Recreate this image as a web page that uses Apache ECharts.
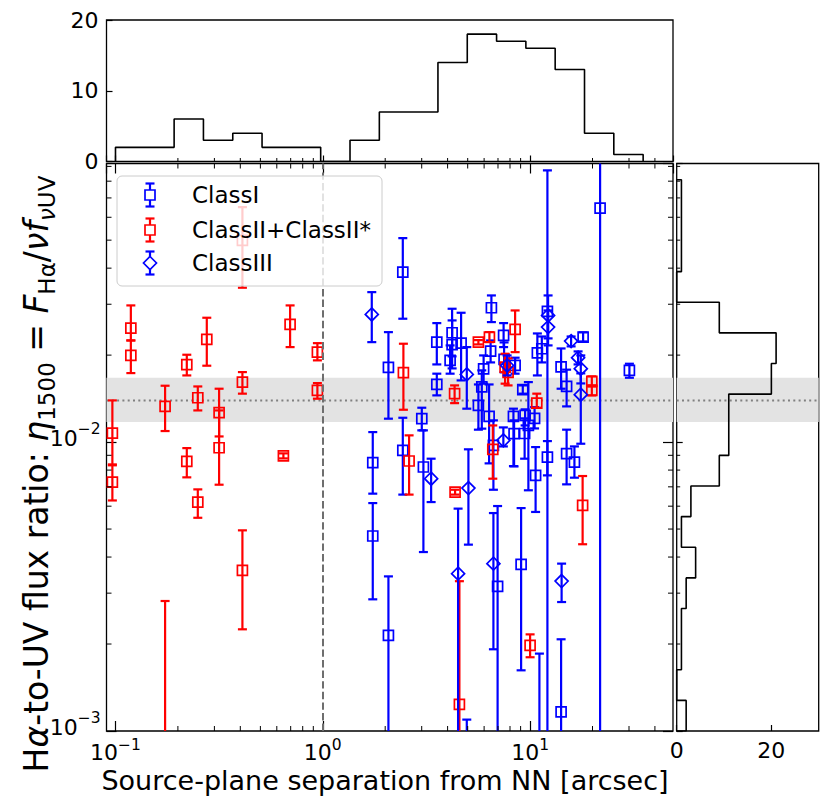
<!DOCTYPE html>
<html><head><meta charset="utf-8">
<script src="https://cdn.jsdelivr.net/npm/echarts@6/dist/echarts.min.js"></script>
<style>html,body{margin:0;padding:0;background:#fff}#c{width:830px;height:805px}</style>
</head><body><div id="c"></div>
<script>
// ---------------- data ----------------
const classI_x  = [2.073,1.742,1.742,2.073,2.432,3.003,3.057,3.548,3.548,2.432,4.205,4.205,4.113,4.647,5.631,10.63,12.12,12.12,11.09,14.11,15.0,16.36,21.76,9.05,6.97,4.95,6.506,7.45,7.49,8.467,6.449,5.967,5.848,6.342,6.653,9.22,8.31,9.46,8.37,9.41,9.81,10.51,10.84,11.39,14.11,15.0,18.02,30.13];
const classI_y  = [0.01814,0.00849,0.00473,0.002144,0.03875,0.01205,0.0082,0.02218,0.01583,0.00936,0.0239,0.02173,0.01918,0.022,0.0134,0.00767,0.02833,0.00887,0.0005,0.001164,0.00912,0.00853,0.06452,0.003775,0.003167,0.0005,0.02917,0.0234,0.01933,0.01842,0.02065,0.01792,0.01552,0.01227,0.00974,0.01518,0.01227,0.01237,0.0107,0.01071,0.01142,0.01208,0.02035,0.02104,0.0182,0.01558,0.02308,0.01771];
const classI_lo = [0.01205,0.00663,0.002856,0.0001,0.02673,0.01098,0.004163,0.01857,0.01451,0.00658,0.0198,0.01799,0.01725,0.01635,0.01104,0.00573,0.0001,0.00767,0.0001,0.0001,0.00714,0.00753,0.0001,0.001622,0.0001,0.0001,0.02602,0.02132,0.01743,0.01725,0.01887,0.01593,0.01113,0.00844,0.00684,0.01471,0.00826,0.01142,0.00824,0.00876,0.00681,0.01115,0.01701,0.01887,0.0153,0.01329,0.0223,0.0167];
const classI_hi = [0.02402,0.01083,0.00615,0.003429,0.0508,0.01315,0.01098,0.02581,0.01725,0.01214,0.02894,0.02637,0.02161,0.02803,0.01583,0.00961,0.08713,0.01008,0.001853,0.002077,0.01104,0.00966,0.2,0.00591,0.006007,0.001095,0.03218,0.02581,0.02213,0.01959,0.02248,0.01995,0.01771,0.01583,0.01189,0.01571,0.01305,0.01298,0.01189,0.01208,0.01613,0.01321,0.02377,0.0232,0.02109,0.01781,0.02397,0.01867];

const classII_x  = [0.0966,0.0966,0.1186,0.1186,0.1735,0.2208,0.2208,0.2495,0.2495,0.2757,0.3161,0.3161,0.4095,0.4095,0.4095,0.6955,0.6456,0.9418,0.9418,0.1735,2.448,4.323,5.631,6.364,8.467,7.576,10.77,19.85,19.85,6.608,2.608,4.347,10.0,17.92,4.56,7.83];
const classII_y  = [0.01074,0.00727,0.0248,0.01995,0.01329,0.01853,0.00857,0.01424,0.0062,0.02266,0.01264,0.00956,0.01613,0.04988,0.003598,0.02554,0.00896,0.02048,0.01509,0.0004,0.01739,0.01471,0.02218,0.02308,0.02455,0.01818,0.01364,0.01622,0.01509,0.00944,0.0086,0.00671,0.00198,0.00604,0.001237,0.01743];
const classII_lo = [0.00831,0.00628,0.02248,0.01733,0.01092,0.01701,0.00755,0.01287,0.00547,0.01838,0.01046,0.00712,0.01471,0.03422,0.002249,0.02132,0.00878,0.01918,0.01413,0.0001,0.01294,0.01364,0.02178,0.02218,0.02048,0.01593,0.01315,0.01558,0.01451,0.00747,0.00658,0.00658,0.0018,0.00443,0.0001,0.01571];
const classII_hi = [0.01394,0.00837,0.02972,0.02248,0.01567,0.02006,0.00953,0.01558,0.00686,0.02694,0.0153,0.01287,0.01747,0.06504,0.004949,0.02972,0.00914,0.022,0.016,0.002818,0.0219,0.01571,0.02254,0.02402,0.02855,0.02022,0.01471,0.01688,0.01571,0.01142,0.01055,0.00684,0.00216,0.00763,0.0033,0.01948];

const classIII_x  = [1.723,3.331,4.95,4.494,5.04,7.43,12.21,12.21,14.19,6.653,7.745,15.77,17.04,17.56,17.56];
const classIII_y  = [0.02766,0.00747,0.01715,0.003505,0.00693,0.01014,0.02744,0.025,0.003304,0.003796,0.01842,0.02236,0.01959,0.01795,0.01459];
const classIII_lo = [0.02218,0.0062,0.01305,0.0001,0.004416,0.00966,0.02285,0.02161,0.002795,0.001918,0.01701,0.02144,0.01857,0.01596,0.00987];
const classIII_hi = [0.03304,0.00876,0.02132,0.005884,0.00944,0.01124,0.03218,0.02855,0.003796,0.00568,0.01995,0.0232,0.0206,0.01995,0.01729];

const histTopEdges  = [0.1,0.1385,0.1918,0.2656,0.3679,0.5093,0.7054,0.9768,1.353,1.874,2.594,3.593,4.976,6.891,9.541,13.21,18.30,25.34,35.1];
const histTopCounts = [2,2,6,3,4,2,2,0,3,7,7,14,18,17,16,13,4,1];
const histRightEdges  = [0.001,0.001276,0.001629,0.00208,0.002655,0.003388,0.004325,0.005521,0.007047,0.008995,0.01148,0.01466,0.01871,0.02388,0.03048,0.0389,0.04966,0.06339,0.08091];
const histRightCounts = [2,0,1,1,2,4,1,3,9,11,11,20,21,9,0,1,1,1];

const etaMedian = 0.01394, etaLo = 0.01173, etaHi = 0.0167;
const xLimits = [0.0905, 48.9];
const yLimits = [0.001, 0.0921];
const topCountTicks = [0, 20, 10];   // min, max, interval
const rightCountTicks = [0, 30, 20]; // min, max, interval
const minorX = [0.2,0.3,0.4,0.5,0.6,0.7,0.8,0.9,2,3,4,5,6,7,8,9,20,30,40];
const minorY = [0.002,0.003,0.004,0.005,0.006,0.007,0.008,0.009,0.02,0.03,0.04,0.05,0.06,0.07,0.08,0.09];
const legendNames = ['ClassI', 'ClassII+ClassII*', 'ClassIII'];
const xLabelText = 'Source-plane separation from NN [arcsec]';

// ---------------- helpers ----------------
const F = 'DejaVu Sans';
const BLUE = '#0000ff', RED = '#ff0000';

function powLabel(v) {
  const e = Math.log10(v), r = Math.round(e);
  if (Math.abs(e - r) > 1e-6) return '';
  return '{b|10}{s|' + (r < 0 ? '\u2212' + (-r) : String(r)) + '}';
}
const powRichX = {
  b: {fontSize: 22, fontFamily: F, color: '#000', lineHeight: 26, verticalAlign: 'bottom'},
  s: {fontSize: 15.5, fontFamily: F, color: '#000', lineHeight: 14, verticalAlign: 'top'}
};
const powRichY = {
  b: {fontSize: 22, fontFamily: F, color: '#000', lineHeight: 28, verticalAlign: 'bottom'},
  s: {fontSize: 15.5, fontFamily: F, color: '#000', lineHeight: 14, verticalAlign: 'top'}
};

function errItem(shape) {
  return function (params, api) {
    const x = api.value(0), y = api.value(1), lo = api.value(2), hi = api.value(3);
    const p = api.coord([x, y]), pl = api.coord([x, lo]), ph = api.coord([x, hi]);
    const c = api.visual('color');
    const cap = 4.5, lw = 2.2;
    const ch = [
      {type: 'line', shape: {x1: p[0], y1: pl[1], x2: p[0], y2: ph[1]}, style: {stroke: c, lineWidth: lw}},
      {type: 'line', shape: {x1: p[0] - cap, y1: ph[1], x2: p[0] + cap, y2: ph[1]}, style: {stroke: c, lineWidth: lw}},
      {type: 'line', shape: {x1: p[0] - cap, y1: pl[1], x2: p[0] + cap, y2: pl[1]}, style: {stroke: c, lineWidth: lw}}
    ];
    if (shape === 'square') {
      ch.push({type: 'rect', shape: {x: p[0] - 5, y: p[1] - 5, width: 10, height: 10}, style: {fill: 'none', stroke: c, lineWidth: 1.7}});
    } else {
      ch.push({type: 'polygon', shape: {points: [[p[0], p[1] - 6.5], [p[0] + 6.5, p[1]], [p[0], p[1] + 6.5], [p[0] - 6.5, p[1]]]}, style: {fill: 'none', stroke: c, lineWidth: 1.7}});
    }
    return {type: 'group', children: ch};
  };
}
function zip4(a, b, c, d) { return a.map((v, i) => [v, b[i], c[i], d[i]]); }

function minorXTicks(refY, sides, len) {
  return function (params, api) {
    const cs = params.coordSys;
    const x = api.coord([api.value(0), refY])[0];
    const ch = [];
    if (sides.indexOf('b') >= 0) ch.push({type: 'line', shape: {x1: x, y1: cs.y + cs.height, x2: x, y2: cs.y + cs.height - len}, style: {stroke: '#000', lineWidth: 1}});
    if (sides.indexOf('t') >= 0) ch.push({type: 'line', shape: {x1: x, y1: cs.y, x2: x, y2: cs.y + len}, style: {stroke: '#000', lineWidth: 1}});
    return {type: 'group', children: ch};
  };
}
function minorYTicks(refX, sides, len) {
  return function (params, api) {
    const cs = params.coordSys;
    const y = api.coord([refX, api.value(1)])[1];
    const ch = [];
    if (sides.indexOf('l') >= 0) ch.push({type: 'line', shape: {x1: cs.x, y1: y, x2: cs.x + len, y2: y}, style: {stroke: '#000', lineWidth: 1}});
    if (sides.indexOf('r') >= 0) ch.push({type: 'line', shape: {x1: cs.x + cs.width, y1: y, x2: cs.x + cs.width - len, y2: y}, style: {stroke: '#000', lineWidth: 1}});
    return {type: 'group', children: ch};
  };
}

// histogram outlines (step)
const topPath = [[histTopEdges[0], 0]];
histTopCounts.forEach((c, i) => { topPath.push([histTopEdges[i], c], [histTopEdges[i + 1], c]); });
topPath.push([histTopEdges[histTopEdges.length - 1], 0]);
const rightPath = [[0, histRightEdges[0]]];
histRightCounts.forEach((c, i) => { rightPath.push([c, histRightEdges[i]], [c, histRightEdges[i + 1]]); });
rightPath.push([0, histRightEdges[histRightEdges.length - 1]]);

// legend graphic
function legendIcon(cx, cy, color, shape) {
  const els = [
    {type: 'line', shape: {x1: cx, y1: cy - 11.5, x2: cx, y2: cy + 11.5}, style: {stroke: color, lineWidth: 2.2}},
    {type: 'line', shape: {x1: cx - 4.5, y1: cy - 11.5, x2: cx + 4.5, y2: cy - 11.5}, style: {stroke: color, lineWidth: 2.2}},
    {type: 'line', shape: {x1: cx - 4.5, y1: cy + 11.5, x2: cx + 4.5, y2: cy + 11.5}, style: {stroke: color, lineWidth: 2.2}}
  ];
  if (shape === 'square') els.push({type: 'rect', shape: {x: cx - 5, y: cy - 5, width: 10, height: 10}, style: {fill: '#fff', stroke: color, lineWidth: 1.7}});
  else els.push({type: 'polygon', shape: {points: [[cx, cy - 6.5], [cx + 6.5, cy], [cx, cy + 6.5], [cx - 6.5, cy]]}, style: {fill: '#fff', stroke: color, lineWidth: 1.7}});
  return els;
}
const legendRows = [[195, BLUE, 'square'], [230, RED, 'square'], [263, BLUE, 'diamond']];
const graphic = [{type: 'rect', z: 100, shape: {x: 117, y: 176, width: 265, height: 110, r: 5}, style: {fill: 'rgba(255,255,255,0.8)', stroke: '#cccccc', lineWidth: 1}}];
legendRows.forEach((r, i) => {
  legendIcon(150, r[0], r[1], r[2]).forEach(e => { e.z = 101; graphic.push(e); });
  graphic.push({type: 'text', z: 101, x: 192, y: r[0], style: {text: legendNames[i], font: '23px "DejaVu Sans"', fill: '#000', align: 'left', verticalAlign: 'middle', textAlign: 'left', textVerticalAlign: 'middle'}});
});
// axis titles
graphic.push({type: 'text', z: 101, x: 385, y: 780, style: {text: xLabelText, font: '27px "DejaVu Sans"', lineHeight: 27, fill: '#000', align: 'center', verticalAlign: 'middle', textAlign: 'center', textVerticalAlign: 'middle'}});
const ylRich = {
  n: {fontSize: 33, fontFamily: F, color: '#000', lineHeight: 44, verticalAlign: 'middle'},
  i: {fontSize: 33, fontFamily: F, fontStyle: 'italic', color: '#000', lineHeight: 44, verticalAlign: 'middle'},
  s: {fontSize: 23, fontFamily: F, color: '#000', lineHeight: 23, verticalAlign: 'bottom'},
  si: {fontSize: 23, fontFamily: F, fontStyle: 'italic', color: '#000', lineHeight: 23, verticalAlign: 'bottom'}
};
graphic.push({type: 'text', z: 101, x: 36, y: 474, rotation: Math.PI / 2, style: {
  text: '{n|H}{i|\u03b1}{n|-to-UV flux ratio: }{i|\u03b7}{s|1500}{n| = }{i|F}{s|H\u03b1}{n|/}{i|\u03bdf}{si|\u03bd}{s|UV}',
  rich: ylRich, align: 'center', verticalAlign: 'middle', textAlign: 'center', textVerticalAlign: 'middle'}});

// ---------------- chart ----------------
const chart = echarts.init(document.getElementById('c'), null, {renderer: 'svg'});
const gridBase = {show: true, borderColor: '#000', borderWidth: 1.3, backgroundColor: 'rgba(0,0,0,0)', containLabel: false, outerBoundsMode: 'none'};
const tickMajor = {show: true, inside: true, length: 10, lineStyle: {color: '#000', width: 1.2}};
const tickHist = {show: true, inside: true, length: 6, lineStyle: {color: '#000', width: 1.2}};
const noLabel = {show: false};
const off = {show: false};
const dotted = {color: '#808080', width: 2, type: [2, 3.3]};

chart.setOption({
  animation: false,
  backgroundColor: '#fff',
  textStyle: {fontFamily: F},
  grid: [
    Object.assign({left: 106.5, top: 163.5, width: 566.5, height: 567.5}, gridBase),
    Object.assign({left: 106.5, top: 20, width: 566.5, height: 141.5}, gridBase),
    Object.assign({left: 676.7, top: 163.5, width: 142, height: 567.5}, gridBase)
  ],
  xAxis: [
    {gridIndex: 0, type: 'log', logBase: 10, min: xLimits[0], max: xLimits[1], position: 'bottom', axisLine: off, splitLine: off, axisTick: tickMajor,
     axisLabel: {formatter: powLabel, rich: powRichX, margin: 6, color: '#000', showMinLabel: false, showMaxLabel: false}},
    {gridIndex: 0, type: 'log', logBase: 10, min: xLimits[0], max: xLimits[1], position: 'top', axisLine: off, splitLine: off, axisTick: tickMajor, axisLabel: noLabel},
    {gridIndex: 1, type: 'log', logBase: 10, min: xLimits[0], max: xLimits[1], position: 'bottom', axisLine: off, splitLine: off, axisTick: tickHist, axisLabel: noLabel},
    {gridIndex: 2, type: 'value', min: rightCountTicks[0], max: rightCountTicks[1], interval: rightCountTicks[2], position: 'bottom', axisLine: off, splitLine: off, axisTick: tickHist,
     axisLabel: {fontSize: 22, fontFamily: F, color: '#000', margin: 8, showMaxLabel: false, formatter: v => (v === rightCountTicks[1] ? '' : String(v))}}
  ],
  yAxis: [
    {gridIndex: 0, type: 'log', logBase: 10, min: yLimits[0], max: yLimits[1], position: 'left', axisLine: off, splitLine: off, axisTick: tickMajor,
     axisLabel: {formatter: powLabel, rich: powRichY, margin: 6, padding: [0, 0, 14, 0], color: '#000', showMaxLabel: false}},
    {gridIndex: 0, type: 'log', logBase: 10, min: yLimits[0], max: yLimits[1], position: 'right', axisLine: off, splitLine: off, axisTick: tickMajor, axisLabel: noLabel},
    {gridIndex: 1, type: 'value', min: topCountTicks[0], max: topCountTicks[1], interval: topCountTicks[2], position: 'left', axisLine: off, splitLine: off, axisTick: tickHist,
     axisLabel: {fontSize: 22, fontFamily: F, color: '#000', margin: 8}},
    {gridIndex: 2, type: 'log', logBase: 10, min: yLimits[0], max: yLimits[1], position: 'left', axisLine: off, splitLine: off, axisTick: tickHist, axisLabel: noLabel}
  ],
  graphic: graphic,
  series: [
    // band + dashed vertical (main)
    {type: 'line', xAxisIndex: 0, yAxisIndex: 0, data: [], silent: true, z: 1,
     markArea: {silent: true, itemStyle: {color: '#e3e3e3'}, data: [[{yAxis: etaLo}, {yAxis: etaHi}]]},
     markLine: {silent: true, symbol: ['none', 'none'], label: {show: false},
       data: [{xAxis: 1, lineStyle: {color: '#6e6e6e', width: 2, type: [7.4, 3.2]}}]}},
    // median line (main)
    {type: 'line', xAxisIndex: 0, yAxisIndex: 0, silent: true, z: 2, symbol: 'none', showSymbol: false,
     data: [[xLimits[0], etaMedian], [xLimits[1], etaMedian]], lineStyle: dotted},
    // minor ticks main
    {type: 'custom', xAxisIndex: 0, yAxisIndex: 0, silent: true, clip: false, z: 5, data: minorX.map(v => [v, 0.01]), encode: {x: 0, y: 1}, renderItem: minorXTicks(0.01, 'bt', 5)},
    {type: 'custom', xAxisIndex: 0, yAxisIndex: 0, silent: true, clip: false, z: 5, data: minorY.map(v => [1, v]), encode: {x: 0, y: 1}, renderItem: minorYTicks(1, 'lr', 5)},
    // minor ticks hist panels
    {type: 'custom', xAxisIndex: 2, yAxisIndex: 2, silent: true, clip: false, z: 5, data: minorX.map(v => [v, 5]), encode: {x: 0, y: 1}, renderItem: minorXTicks(5, 'b', 3.5)},
    {type: 'custom', xAxisIndex: 3, yAxisIndex: 3, silent: true, clip: false, z: 5, data: minorY.map(v => [5, v]), encode: {x: 0, y: 1}, renderItem: minorYTicks(5, 'l', 3.5)},
    // data
    {type: 'custom', name: legendNames[0], xAxisIndex: 0, yAxisIndex: 0, clip: true, z: 3, itemStyle: {color: BLUE},
     data: zip4(classI_x, classI_y, classI_lo, classI_hi), encode: {x: 0, y: 1}, renderItem: errItem('square')},
    {type: 'custom', name: legendNames[1], xAxisIndex: 0, yAxisIndex: 0, clip: true, z: 3, itemStyle: {color: RED},
     data: zip4(classII_x, classII_y, classII_lo, classII_hi), encode: {x: 0, y: 1}, renderItem: errItem('square')},
    {type: 'custom', name: legendNames[2], xAxisIndex: 0, yAxisIndex: 0, clip: true, z: 3, itemStyle: {color: BLUE},
     data: zip4(classIII_x, classIII_y, classIII_lo, classIII_hi), encode: {x: 0, y: 1}, renderItem: errItem('diamond')},
    // top histogram
    {type: 'line', xAxisIndex: 2, yAxisIndex: 2, data: topPath, symbol: 'none', showSymbol: false, clip: true, z: 3,
     lineStyle: {color: '#000', width: 1.6}},
    // right histogram
    {type: 'line', xAxisIndex: 3, yAxisIndex: 3, data: rightPath, symbol: 'none', showSymbol: false, clip: true, z: 3,
     lineStyle: {color: '#000', width: 1.6},
     markArea: {silent: true, itemStyle: {color: '#e3e3e3'}, data: [[{yAxis: etaLo}, {yAxis: etaHi}]]}},
    {type: 'line', xAxisIndex: 3, yAxisIndex: 3, silent: true, z: 2, symbol: 'none', showSymbol: false,
     data: [[rightCountTicks[0], etaMedian], [rightCountTicks[1], etaMedian]], lineStyle: dotted}
  ]
});
</script></body></html>
